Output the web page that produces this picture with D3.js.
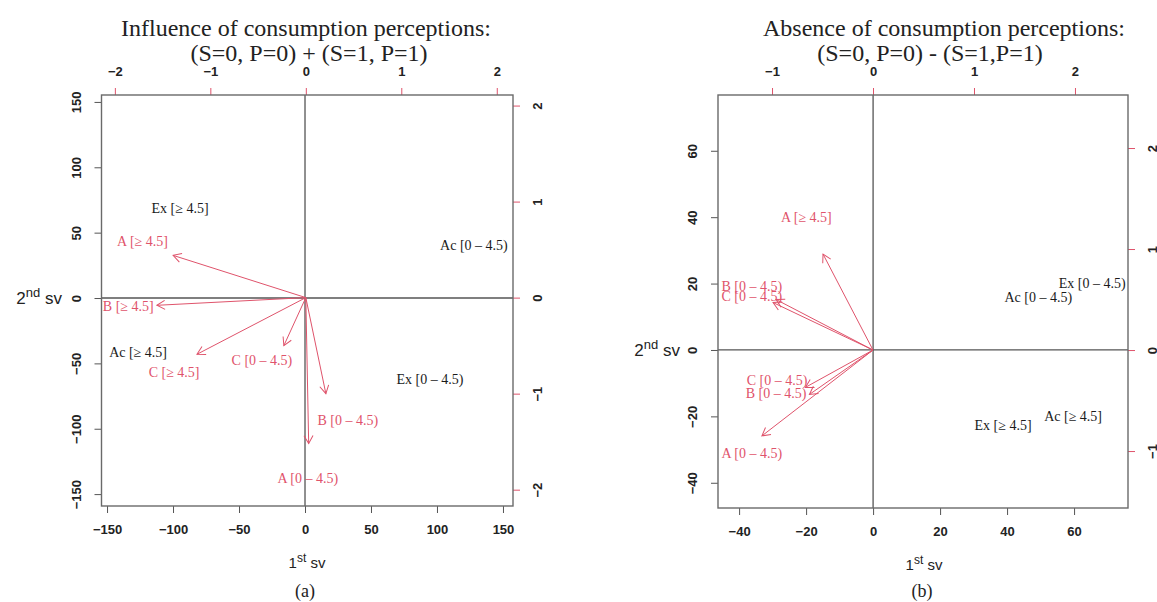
<!DOCTYPE html>
<html>
<head>
<meta charset="utf-8">
<script src="https://cdn.jsdelivr.net/npm/d3@7"></script>
<style>
  body { margin: 0; background: #fff; }
  svg text { font-family: "Liberation Serif", "Times New Roman", serif; }
  .tick-lab { font-family: "Liberation Sans", Arial, sans-serif; font-size: 13px; font-weight: bold; fill: #222; }
  .ax-title { font-family: "Liberation Sans", Arial, sans-serif; fill: #222; }
</style>
</head>
<body>
<div id="chart"></div>
<script>
// ---- panel (a) ----
const leftVarLabels = ["A [≥ 4.5]", "B [≥ 4.5]", "C [≥ 4.5]", "C [0 – 4.5)", "B [0 – 4.5)", "A [0 – 4.5)"];
const leftArrowX = [-1.39, -1.56, -1.14, -0.23, 0.21, 0.03];
const leftArrowY = [0.44, -0.08, -0.59, -0.50, -1.00, -1.52];
const leftLabelX = [-1.71, -1.86, -1.38, -0.46, 0.44, 0.02];
const leftLabelY = [0.59, -0.09, -0.78, -0.65, -1.28, -1.88];
const leftObsLabels = ["Ex [≥ 4.5]", "Ac [0 – 4.5)", "Ac [≥ 4.5]", "Ex [0 – 4.5)"];
const leftObsX = [-94.7, 128, -126.5, 94.7];
const leftObsY = [68.9, 40.5, -41, -62];
const leftScoreTicks = [-150, -100, -50, 0, 50, 100, 150];
const leftLoadTicks = [-2, -1, 0, 1, 2];

// ---- panel (b) ----
const rightVarLabels = ["A [≥ 4.5]", "B [0 – 4.5)", "C [0 – 4.5)", "C [0 – 4.5)", "B [0 – 4.5)", "A [0 – 4.5)"];
const rightArrowX = [-0.495, -0.96, -0.99, -0.67, -0.63, -1.10];
const rightArrowY = [0.95, 0.50, 0.47, -0.37, -0.44, -0.85];
const rightLabelX = [-0.66, -1.20, -1.20, -0.95, -0.96, -1.20];
const rightLabelY = [1.32, 0.63, 0.53, -0.30, -0.43, -1.02];
const rightObsLabels = ["Ex [0 – 4.5)", "Ac [0 – 4.5)", "Ex [≥ 4.5]", "Ac [≥ 4.5]"];
const rightObsX = [65.4, 49.3, 38.8, 59.7];
const rightObsY = [20.2, 16.0, -22.6, -19.9];
const rightScoreTicks = [-40, -20, 0, 20, 40, 60];
const rightLoadTicks = [-1, 0, 1, 2];

const pink = "#DF536B";
const frameColor = "#6a6a6a";

const svg = d3.select("#chart").append("svg")
    .attr("width", 1157)
    .attr("height", 602);

svg.append("defs").append("marker")
    .attr("id", "head")
    .attr("viewBox", "-10 -6 12 12")
    .attr("refX", 0).attr("refY", 0)
    .attr("markerWidth", 12).attr("markerHeight", 12)
    .attr("markerUnits", "userSpaceOnUse")
    .attr("orient", "auto")
    .append("path")
    .attr("d", "M-8,-4.5 L0,0 L-8,4.5")
    .attr("fill", "none")
    .attr("stroke", pink)
    .attr("stroke-width", 1);

function drawPanel(p) {
    const g = svg.append("g");
    const [x0, x1] = p.frameX, [y0, y1] = p.frameY;

    const xs = d3.scaleLinear().domain(p.scoreXDomain).range([x0, x1]);
    const ys = d3.scaleLinear().domain(p.scoreYDomain).range([y1, y0]);
    const xl = d3.scaleLinear().domain(p.loadXDomain).range([x0, x1]);
    const yl = d3.scaleLinear().domain(p.loadYDomain).range([y1, y0]);

    // zero lines
    g.append("line").attr("x1", x0).attr("x2", x1).attr("y1", ys(0)).attr("y2", ys(0))
        .attr("stroke", "#555").attr("stroke-width", 1.3);
    g.append("line").attr("x1", xs(0)).attr("x2", xs(0)).attr("y1", y0).attr("y2", y1)
        .attr("stroke", "#555").attr("stroke-width", 1.3);

    // bottom / left axes (scores)
    const bottom = g.append("g").attr("transform", `translate(0,${y1})`)
        .call(d3.axisBottom(xs).tickValues(p.scoreTicks).tickSize(7).tickPadding(12).tickFormat(d3.format("d")));
    const left = g.append("g").attr("transform", `translate(${x0},0)`)
        .call(d3.axisLeft(ys).tickValues(p.scoreTicksY).tickSize(7).tickPadding(6).tickFormat(d3.format("d")));
    left.selectAll(".tick text")
        .attr("transform", "rotate(-90)")
        .attr("x", 0).attr("y", -21).attr("dy", "0")
        .style("text-anchor", "middle");

    // top / right axes (loadings)
    const top = g.append("g").attr("transform", `translate(0,${y0})`)
        .call(d3.axisTop(xl).tickValues(p.loadTicks).tickSize(7).tickPadding(12).tickFormat(d3.format("d")));
    const right = g.append("g").attr("transform", `translate(${x1},0)`)
        .call(d3.axisRight(yl).tickValues(p.loadTicksY).tickSize(7).tickPadding(6).tickFormat(d3.format("d")));
    right.selectAll(".tick text")
        .attr("transform", "rotate(-90)")
        .attr("x", 0).attr("y", 29).attr("dy", "0")
        .style("text-anchor", "middle");

    [bottom, left, top, right].forEach(a => {
        a.select(".domain").remove();
        a.selectAll(".tick text").attr("class", "tick-lab").attr("font-family", null).attr("font-size", null);
    });
    [bottom, left].forEach(a => a.selectAll(".tick line").attr("stroke", "#555"));
    [top, right].forEach(a => a.selectAll(".tick line").attr("stroke", pink));

    // frame
    g.append("rect").attr("x", x0).attr("y", y0).attr("width", x1 - x0).attr("height", y1 - y0)
        .attr("fill", "none").attr("stroke", frameColor).attr("stroke-width", 1.4);

    // observation labels
    g.selectAll("text.obs").data(p.obsLabels).enter().append("text")
        .attr("class", "obs")
        .attr("x", (d, i) => xs(p.obsX[i]))
        .attr("y", (d, i) => ys(p.obsY[i]))
        .attr("dy", "0.35em")
        .attr("text-anchor", "middle")
        .attr("font-size", 14)
        .attr("fill", "#1a1a1a")
        .text(d => d);

    // variable arrows
    g.selectAll("line.arr").data(p.arrowX).enter().append("line")
        .attr("class", "arr")
        .attr("x1", xl(0)).attr("y1", yl(0))
        .attr("x2", d => xl(d))
        .attr("y2", (d, i) => yl(p.arrowY[i]))
        .attr("stroke", pink).attr("stroke-width", 1)
        .attr("marker-end", "url(#head)");

    g.selectAll("text.var").data(p.varLabels).enter().append("text")
        .attr("class", "var")
        .attr("x", (d, i) => xl(p.labelX[i]))
        .attr("y", (d, i) => yl(p.labelY[i]))
        .attr("dy", "0.35em")
        .attr("text-anchor", "middle")
        .attr("font-size", 14)
        .attr("fill", pink)
        .text(d => d);

    // titles
    g.append("text").attr("x", p.title1X).attr("y", 36).attr("text-anchor", "middle")
        .attr("font-size", 24).attr("fill", "#222").text(p.title1);
    g.append("text").attr("x", p.title2X).attr("y", 61).attr("text-anchor", "middle")
        .attr("font-size", 24).attr("fill", "#222").text(p.title2);

    // axis titles
    const xt = g.append("text").attr("class", "ax-title").attr("font-size", 15)
        .attr("x", p.xTitleX).attr("y", p.xTitleY).attr("text-anchor", "middle");
    xt.append("tspan").text("1");
    xt.append("tspan").attr("dy", -6).attr("font-size", 12).text("st");
    xt.append("tspan").attr("dy", 6).text(" sv");

    const yt = g.append("text").attr("class", "ax-title").attr("font-size", 17)
        .attr("x", p.yTitleX).attr("y", p.yTitleY).attr("text-anchor", "end");
    yt.append("tspan").text("2");
    yt.append("tspan").attr("dy", -7).attr("font-size", 13).text("nd");
    yt.append("tspan").attr("dy", 7).text(" sv");

    g.append("text").attr("x", p.capX).attr("y", 597).attr("text-anchor", "middle")
        .attr("font-size", 18).attr("fill", "#222").text(p.caption);
}

drawPanel({
    frameX: [101.5, 513], frameY: [95, 506],
    scoreXDomain: [-154.2, 157.6], scoreYDomain: [-159.1, 155.3],
    loadXDomain: [-2.14, 2.17], loadYDomain: [-2.17, 2.11],
    scoreTicks: leftScoreTicks, scoreTicksY: leftScoreTicks,
    loadTicks: leftLoadTicks, loadTicksY: leftLoadTicks,
    obsLabels: leftObsLabels, obsX: leftObsX, obsY: leftObsY,
    varLabels: leftVarLabels, arrowX: leftArrowX, arrowY: leftArrowY,
    labelX: leftLabelX, labelY: leftLabelY,
    title1: "Influence of consumption perceptions:", title1X: 306,
    title2: "(S=0, P=0) + (S=1, P=1)", title2X: 309,
    xTitleX: 307, xTitleY: 568, yTitleX: 62, yTitleY: 304,
    caption: "(a)", capX: 305
});

drawPanel({
    frameX: [718, 1128], frameY: [95, 508],
    scoreXDomain: [-46.3, 76.1], scoreYDomain: [-47.6, 76.8],
    loadXDomain: [-1.535, 2.525], loadYDomain: [-1.564, 2.525],
    scoreTicks: rightScoreTicks, scoreTicksY: rightScoreTicks,
    loadTicks: rightLoadTicks, loadTicksY: rightLoadTicks,
    obsLabels: rightObsLabels, obsX: rightObsX, obsY: rightObsY,
    varLabels: rightVarLabels, arrowX: rightArrowX, arrowY: rightArrowY,
    labelX: rightLabelX, labelY: rightLabelY,
    title1: "Absence of consumption perceptions:", title1X: 944,
    title2: "(S=0, P=0) - (S=1,P=1)", title2X: 930,
    xTitleX: 924, xTitleY: 570, yTitleX: 680, yTitleY: 356,
    caption: "(b)", capX: 922
});
</script>
</body>
</html>
